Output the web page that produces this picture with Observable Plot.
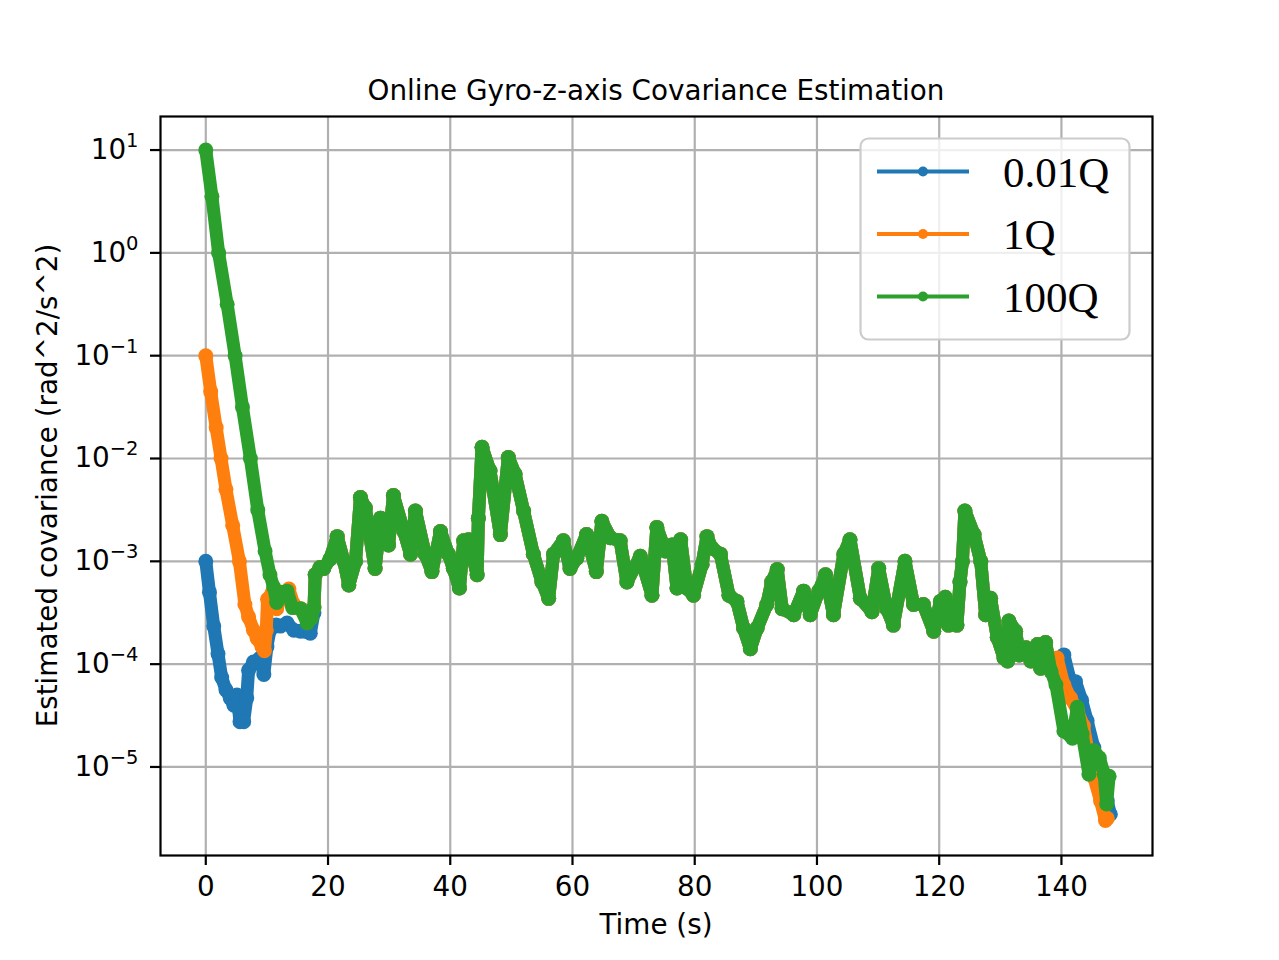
<!DOCTYPE html>
<html><head><meta charset="utf-8">
<script src="https://cdn.jsdelivr.net/npm/d3@7"></script>
<script src="https://cdn.jsdelivr.net/npm/@observablehq/plot@0.6"></script>
<style>body{margin:0;background:#fff} svg{display:block}</style>
</head><body><div id="chart"></div>
<script>
const titleText = "Online Gyro-z-axis Covariance Estimation";
const xLabelText = "Time (s)";
const yLabelText = "Estimated covariance (rad^2/s^2)";
const seriesNames = ["0.01Q", "1Q", "100Q"];
const seriesColors = ["#1f77b4", "#ff7f0e", "#2ca02c"];
const xTicks = [0, 20, 40, 60, 80, 100, 120, 140];
const yTickExponents = [-5, -4, -3, -2, -1, 0, 1];

// values as log10(covariance)
const blueHeadTime = [0, 0.6, 1.3, 2.0, 2.6, 3.3, 4.0, 4.6, 5.1, 5.6, 6.2, 6.7, 7.0, 7.8, 8.9, 9.5, 10.0, 10.5, 11.5, 12.2, 13.3, 14.4, 15.5, 17.1, 17.7];
const blueHeadLog = [-3.0, -3.3, -3.63, -3.9, -4.13, -4.25, -4.33, -4.4, -4.3, -4.56, -4.56, -4.33, -4.06, -3.98, -3.94, -4.1, -3.83, -3.67, -3.62, -3.63, -3.6, -3.67, -3.68, -3.7, -3.5];
const orangeHeadTime = [0, 0.8, 1.7, 2.5, 3.3, 4.4, 5.5, 6.4, 7.0, 7.8, 8.4, 9.2, 9.6, 9.9, 10.1, 10.8, 11.6, 12.7, 13.6, 14.4, 15.5, 16.6, 17.7];
const orangeHeadLog = [-1.0, -1.35, -1.7, -2.0, -2.3, -2.65, -3.0, -3.42, -3.54, -3.67, -3.75, -3.83, -3.87, -3.67, -3.37, -3.31, -3.46, -3.31, -3.27, -3.42, -3.46, -3.58, -3.45];
const greenHeadTime = [0, 1.0, 2.1, 3.5, 4.8, 6.0, 7.3, 8.5, 9.7, 10.5, 11.1, 11.6, 12.4, 13.3, 14.2, 15.5, 16.6, 17.3, 17.7];
const greenHeadLog = [1.0, 0.55, 0.0, -0.5, -1.0, -1.5, -2.0, -2.5, -2.9, -3.13, -3.25, -3.4, -3.3, -3.29, -3.45, -3.46, -3.6, -3.55, -3.45];

const commonTime = [17.9, 18.7, 19.3, 20.3, 21.5, 22.6, 23.4, 24.5, 25.3, 26.1, 27.7, 28.6, 29.9, 30.7, 32.4, 33.5, 34.3, 35.9, 37.0, 38.4, 39.7, 40.5, 41.5, 42.2, 43.0, 44.4, 44.6, 45.2, 46.5, 48.2, 49.5, 50.6, 52.0, 53.6, 55.0, 56.1, 56.9, 58.5, 59.6, 60.7, 62.3, 63.9, 64.8, 66.2, 67.8, 68.9, 71.1, 73.0, 73.8, 75.2, 76.3, 77.1, 77.7, 78.7, 79.8, 81.2, 82.0, 82.8, 84.2, 85.6, 86.9, 88.0, 89.1, 90.2, 91.8, 92.6, 93.5, 94.3, 96.2, 97.8, 98.9, 100.3, 101.4, 102.7, 104.4, 105.4, 107.1, 109.0, 110.1, 111.4, 112.5, 114.4, 115.8, 117.4, 119.1, 120.2, 121.0, 121.5, 122.9, 123.4, 123.8, 124.2, 125.7, 126.8, 127.6, 128.4, 129.5, 130.6, 131.2, 131.4, 132.5, 133.1, 134.2, 135.0, 136.1, 136.6, 137.4, 138.3];
const commonLog = [-3.13, -3.06, -3.07, -2.98, -2.76, -3.0, -3.23, -3.0, -2.38, -2.48, -3.07, -2.58, -2.84, -2.36, -2.71, -2.93, -2.51, -2.93, -3.1, -2.71, -2.93, -3.07, -3.26, -2.8, -2.79, -3.13, -2.58, -1.89, -2.12, -2.74, -1.99, -2.15, -2.51, -2.93, -3.2, -3.36, -2.93, -2.8, -3.07, -2.97, -2.74, -3.1, -2.61, -2.77, -2.8, -3.2, -2.95, -3.33, -2.67, -2.9, -2.84, -3.26, -2.79, -3.26, -3.33, -3.03, -2.76, -2.87, -2.93, -3.33, -3.39, -3.65, -3.85, -3.65, -3.42, -3.2, -3.08, -3.46, -3.52, -3.29, -3.52, -3.29, -3.13, -3.52, -2.93, -2.79, -3.36, -3.49, -3.07, -3.46, -3.62, -3.0, -3.42, -3.42, -3.68, -3.39, -3.35, -3.62, -3.62, -3.2, -3.0, -2.51, -2.74, -3.0, -3.52, -3.36, -3.74, -3.94, -3.97, -3.58, -3.68, -3.91, -3.84, -3.97, -3.81, -4.04, -3.79, -4.07];

const blueTailTime = [139.0, 140.4, 141.4, 142.3, 143.3, 144.2, 145.3, 146.5, 147.5, 148.0];
const blueTailLog = [-3.95, -3.91, -4.15, -4.17, -4.35, -4.55, -4.81, -5.05, -5.33, -5.46];
const orangeTailTime = [139.3, 140.4, 141.5, 142.6, 143.6, 144.5, 145.3, 146.4, 147.2, 147.5];
const orangeTailLog = [-3.94, -4.2, -4.33, -4.45, -4.6, -4.9, -5.1, -5.33, -5.52, -5.5];
const greenTailTime = [139.1, 140.4, 141.8, 142.6, 143.4, 144.5, 145.3, 146.2, 147.0, 147.4, 147.8];
const greenTailLog = [-4.2, -4.65, -4.72, -4.42, -4.68, -5.07, -4.84, -4.91, -5.07, -5.36, -5.09];

const heads = [[blueHeadTime, blueHeadLog], [orangeHeadTime, orangeHeadLog], [greenHeadTime, greenHeadLog]];
const tails = [[blueTailTime, blueTailLog], [orangeTailTime, orangeTailLog], [greenTailTime, greenTailLog]];

const rows = seriesNames.map((name, i) => {
  const t = heads[i][0].concat(commonTime, tails[i][0]);
  const l = heads[i][1].concat(commonLog, tails[i][1]);
  return t.map((tt, k) => ({series: name, t: tt, v: Math.pow(10, l[k])}));
});
const yTicks = yTickExponents.map(e => Math.pow(10, e));

const W = 1279, H = 960, ML = 160, MR = 127, MT = 116, MB = 105;
const FONT = "DejaVu Sans";
const FS = 27.8;

const seriesMarks = rows.flatMap((data, i) => [
  Plot.line(data, {x: "t", y: "v", stroke: seriesColors[i], strokeWidth: 13, strokeLinejoin: "round", strokeLinecap: "round"}),
  Plot.dot(data, {x: "t", y: "v", fill: seriesColors[i], r: 7.5, stroke: "none"})
]);

const chart = Plot.plot({
  width: W, height: H,
  marginLeft: ML, marginRight: MR, marginTop: MT, marginBottom: MB,
  style: {fontFamily: FONT, fontSize: FS + "px", background: "white", color: "black", overflow: "visible"},
  x: {domain: [-7.41, 154.9]},
  y: {type: "log", domain: [1.377e-6, 21.2]},
  marks: [
    Plot.gridX(xTicks, {stroke: "#b0b0b0", strokeOpacity: 1, strokeWidth: 2.2}),
    Plot.gridY(yTicks, {stroke: "#b0b0b0", strokeOpacity: 1, strokeWidth: 2.2}),
    ...seriesMarks,
    Plot.frame({stroke: "black", strokeWidth: 2.2}),
    Plot.axisX(xTicks, {tickSize: 10, tickPadding: 11, strokeWidth: 2.2, label: null, fontSize: FS, tickFormat: d => String(d)}),
    Plot.axisY(yTicks, {tickSize: 10, tickPadding: 12, strokeWidth: 2.2, label: null, fontSize: FS, tickFormat: d => String(Math.round(Math.log10(d))).replace("-", "\u2212")})
  ]
});

document.getElementById("chart").appendChild(chart);
const svg = d3.select(chart);

// superscript exponents on y tick labels
svg.selectAll('g[aria-label="y-axis tick label"] text').each(function() {
  const t = d3.select(this);
  const e = t.text();
  t.text("10");
  t.append("tspan").attr("dy", "-12").attr("font-size", "19.5px").text(e);
});

// title and axis labels
svg.append("text").attr("x", (ML + W - MR) / 2).attr("y", 100).attr("text-anchor", "middle")
  .attr("font-family", FONT).attr("font-size", FS + "px").attr("fill", "black").text(titleText);
svg.append("text").attr("x", (ML + W - MR) / 2).attr("y", 934).attr("text-anchor", "middle")
  .attr("font-family", FONT).attr("font-size", FS + "px").attr("fill", "black").text(xLabelText);
svg.append("text").attr("transform", `translate(57,${(MT + H - MB) / 2}) rotate(-90)`).attr("text-anchor", "middle")
  .attr("font-family", FONT).attr("font-size", FS + "px").attr("fill", "black").text(yLabelText);

// legend
const lg = svg.append("g");
lg.append("rect").attr("x", 860.5).attr("y", 138.5).attr("width", 269).attr("height", 201).attr("rx", 8)
  .attr("fill", "white").attr("fill-opacity", 0.8).attr("stroke", "#cccccc").attr("stroke-width", 2.2);
seriesNames.forEach((name, i) => {
  const y = 171.5 + i * 62.5;
  lg.append("line").attr("x1", 877).attr("x2", 969).attr("y1", y).attr("y2", y)
    .attr("stroke", seriesColors[i]).attr("stroke-width", 4.2);
  lg.append("circle").attr("cx", 923).attr("cy", y).attr("r", 5).attr("fill", seriesColors[i]);
  lg.append("text").attr("x", 1003).attr("y", y + 15).attr("text-anchor", "start").attr("font-family", "Liberation Serif")
    .attr("font-size", "43px").attr("fill", "black").text(name);
});
</script></body></html>
